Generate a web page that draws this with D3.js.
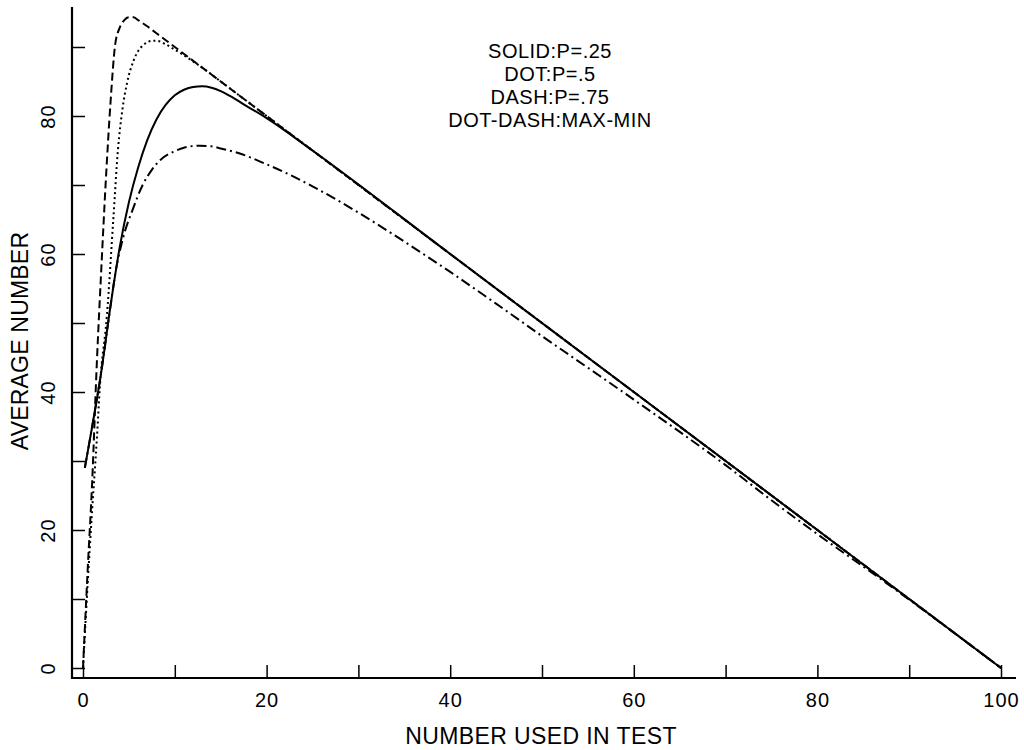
<!DOCTYPE html>
<html>
<head>
<meta charset="utf-8">
<script src="https://cdn.jsdelivr.net/npm/d3@7"></script>
<style>
  body { margin: 0; background: #fff; }
  text { font-family: "Liberation Sans", Arial, sans-serif; fill: #000; }
</style>
</head>
<body>
<div class="chart"></div>
<script>
// series values: [number used, average number]
const solidPts = [[0.2, 29], [1, 35], [2, 43], [3, 52.5], [4, 61], [5, 67.5], [6, 72.5], [7, 76.5],
    [8, 79.5], [9, 81.6], [10, 83], [11, 83.8], [12, 84.2], [13, 84.3], [14, 84.1], [15, 83.6],
    [16, 82.9], [18, 81.3], [20, 79.7], [25, 75], [40, 60], [60, 40], [80, 20], [100, 0]]
const dotPts = [[0, 0], [0.5, 12], [1, 23], [1.5, 33], [1.85, 41], [2.6, 51], [3.3, 65], [3.8, 75],
    [4.3, 81], [4.8, 84.8], [5.5, 88], [6, 89.4], [6.5, 90.2], [7, 90.7], [7.5, 90.9], [8, 90.9],
    [9, 90.4], [10, 89.6], [11, 88.8], [12, 87.9], [13, 87], [15, 85], [40, 60], [70, 30], [100, 0]]
const dashPts = [[0, 0], [0.5, 14], [1, 27], [1.5, 44], [2, 58], [2.5, 71], [3, 82], [3.5, 90.3],
    [4, 92.8], [4.5, 93.9], [5, 94.3], [5.5, 94.3], [6, 93.9], [7, 93], [8, 92], [10, 90],
    [40, 60], [70, 30], [100, 0]]
const maxMinPts = [[0.2, 29], [1, 35], [2, 43], [3, 52.5], [3.5, 57], [4.4, 62.5], [5.4, 66.4],
    [6.5, 70], [7.5, 72.2], [8.4, 73.6], [10, 74.9], [11, 75.4], [12.7, 75.7], [14, 75.6],
    [15, 75.3], [17, 74.6], [20, 73], [22.5, 71.5], [25, 69.8], [30, 66], [35, 61.8], [40, 57.4],
    [45, 52.8], [50, 48.1], [56, 42.6], [60, 38.9], [70, 29.4], [76, 23.3], [80, 19.4], [87, 12.8],
    [90, 9.9], [100, 0]]

const xTicks = [0, 10, 20, 30, 40, 50, 60, 70, 80, 90, 100]
const yTicks = [0, 10, 20, 30, 40, 50, 60, 70, 80, 90]
const legendLines = ["SOLID:P=.25", "DOT:P=.5", "DASH:P=.75", "DOT-DASH:MAX-MIN"]
const xTitle = "NUMBER USED IN TEST"
const yTitle = "AVERAGE NUMBER"

const width = 1024
const height = 750

const svg = d3.select(".chart")
    .append("svg")
    .attr("width", width)
    .attr("height", height)

// scales
const x = d3.scaleLinear().domain([0, 100]).range([83, 1001])
const y = d3.scaleLinear().domain([0, 90]).range([668, 47])

// frame lines (offset from the zero ticks like the original plot)
svg.append("line")
    .attr("x1", 72).attr("x2", 1016)
    .attr("y1", 678).attr("y2", 678)
    .attr("stroke", "black").attr("stroke-width", 2.2)
svg.append("line")
    .attr("x1", 72).attr("x2", 72)
    .attr("y1", 7).attr("y2", 679)
    .attr("stroke", "black").attr("stroke-width", 2.2)

// x axis
const xAxis = d3.axisBottom(x)
    .tickValues(xTicks)
    .tickSize(-13)
    .tickFormat(d => d % 20 === 0 ? d : "")
const gx = svg.append("g")
    .attr("transform", `translate(0, ${678})`)
    .call(xAxis)
gx.select(".domain").remove()
gx.selectAll(".tick line").attr("stroke", "black").attr("stroke-width", 1.5)
gx.selectAll(".tick text")
    .attr("y", 29).attr("dy", 0)
    .attr("font-size", 20)
    .attr("letter-spacing", 1)
    .attr("font-family", "Liberation Sans, Arial, sans-serif")

// y axis
const yAxis = d3.axisLeft(y)
    .tickValues(yTicks)
    .tickSize(-13)
    .tickFormat(d => d % 20 === 0 ? d : "")
const gy = svg.append("g")
    .attr("transform", `translate(${72}, 0)`)
    .call(yAxis)
gy.select(".domain").remove()
gy.selectAll(".tick line").attr("stroke", "black").attr("stroke-width", 1.5)
gy.selectAll(".tick text")
    .attr("x", null).attr("dy", null)
    .attr("text-anchor", "middle")
    .attr("transform", "translate(-17, 0) rotate(-90)")
    .attr("font-size", 20)
    .attr("letter-spacing", 1)
    .attr("font-family", "Liberation Sans, Arial, sans-serif")

// axis titles
svg.append("text")
    .text(xTitle)
    .attr("x", 541).attr("y", 744)
    .attr("text-anchor", "middle")
    .attr("font-size", 23)
    .attr("letter-spacing", 0.4)

svg.append("text")
    .text(yTitle)
    .attr("transform", `translate(${28}, ${341}) rotate(-90)`)
    .attr("text-anchor", "middle")
    .attr("font-size", 23)
    .attr("letter-spacing", 0.2)

// legend text
svg.selectAll("text.legend")
    .data(legendLines)
    .join("text")
    .attr("class", "legend")
    .text(d => d)
    .attr("x", 550)
    .attr("y", (d, i) => 58 + i * 23)
    .attr("text-anchor", "middle")
    .attr("font-size", 20)
    .attr("letter-spacing", 0.5)

// curves
const line = d3.line()
    .x(d => x(d[0]))
    .y(d => y(d[1]))
    .curve(d3.curveMonotoneX)

const series = [
    { pts: maxMinPts, dash: "10,4,2,4" },
    { pts: dotPts, dash: "2,3" },
    { pts: dashPts, dash: "8,4" },
    { pts: solidPts, dash: null }
]

svg.selectAll("path.curve")
    .data(series)
    .join("path")
    .attr("class", "curve")
    .attr("fill", "none")
    .attr("stroke", "black")
    .attr("stroke-width", 2)
    .attr("stroke-dasharray", d => d.dash)
    .attr("d", d => line(d.pts))
</script>
</body>
</html>
